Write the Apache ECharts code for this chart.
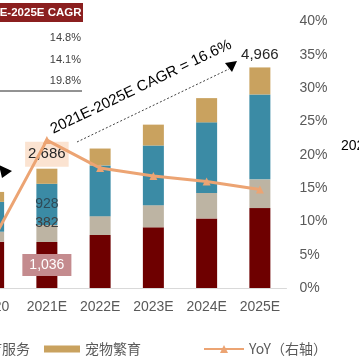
<!DOCTYPE html>
<html><head><meta charset="utf-8">
<script src="https://cdn.jsdelivr.net/npm/echarts@6/dist/echarts.min.js"></script>
<style>html,body{margin:0;padding:0;background:#fff;overflow:hidden}
#wrap{position:relative;width:359px;height:359px;overflow:hidden}
#c{position:absolute;left:-33px;top:0;width:392px;height:359px}</style>
</head><body><div id="wrap"><div id="c"></div></div>
<script>
const categories = ['2020', '2021E', '2022E', '2023E', '2024E', '2025E'];
const seriesNames = ['宠物食品', '宠物用品', '宠物医疗服务', '宠物繁育', 'YoY（右轴）'];
const foodVals = [1043, 1036, 1193, 1366, 1567, 1799];
const suppliesVals = [224, 382, 425, 499, 573, 647];
const medicalVals = [672, 928, 1142, 1343, 1589, 1911];
const breedingVals = [224, 340, 380, 470, 546, 609];
const yoyVals = [0.074, 0.222, 0.180, 0.168, 0.160, 0.148];
const cagrRows = ['14.8%', '14.1%', '19.8%'];
const cagrTitle = '2021E-2025E CAGR';
const cagrNote = '2021E-2025E CAGR = 16.6%';

const OX = 33; // chart canvas is shifted 33px left of the visible frame
const FONT = '"Liberation Sans", Arial, "Noto Sans CJK SC", sans-serif';
const COLORS = ['#6e0000', '#bdb4a3', '#3b8ba5', '#c9a25f', '#eca473'];
const totals = categories.map((c, i) => foodVals[i] + suppliesVals[i] + medicalVals[i] + breedingVals[i]);
const fmt = v => v.toLocaleString('en-US');

function withLabels(vals, idx, label) {
  return vals.map((v, i) => i === idx ? { value: v, label: label(v) } : v);
}

const chart = echarts.init(document.getElementById('c'), null, { renderer: 'canvas' });
const legendBase = {
  top: 336, icon: 'rect', itemWidth: 36, itemHeight: 7,
  textStyle: { fontSize: 14, color: '#595959', fontFamily: '"Noto Sans CJK SC", sans-serif', lineHeight: 16 }
};
chart.setOption({
  animation: false,
  textStyle: { fontFamily: FONT },
  grid: { left: 0, right: 72.5, top: 21.5, bottom: 71 },
  legend: [
    Object.assign({}, legendBase, { data: [seriesNames[2]], left: OX - 100 }),
    Object.assign({}, legendBase, { data: [seriesNames[3]], left: OX + 39 }),
    Object.assign({}, legendBase, { data: [seriesNames[4]], left: OX + 198, icon: null, itemWidth: 40, itemHeight: 10 })
  ],
  xAxis: {
    type: 'category', data: categories,
    axisLine: { lineStyle: { color: '#d9d9d9', width: 1 } },
    axisTick: { show: false },
    axisLabel: { fontSize: 14, color: '#595959', margin: 12, interval: 0, fontFamily: FONT }
  },
  yAxis: [
    { type: 'value', min: 0, max: 6000, show: false },
    {
      type: 'value', min: 0, max: 0.4, interval: 0.05, position: 'right',
      splitLine: { show: false }, axisLine: { show: false }, axisTick: { show: false },
      axisLabel: { fontSize: 14, color: '#595959', margin: 13, fontFamily: FONT,
        formatter: v => Math.round(v * 100) + '%' }
    }
  ],
  series: [
    { name: seriesNames[0], type: 'bar', stack: 't', barWidth: 21, itemStyle: { color: COLORS[0] },
      data: withLabels(foodVals, 1, v => ({ show: true, position: 'inside', formatter: fmt(v), color: '#fff',
        fontSize: 14, backgroundColor: '#c48b8e', padding: [4, 7] })) },
    { name: seriesNames[1], type: 'bar', stack: 't', itemStyle: { color: COLORS[1] },
      data: withLabels(suppliesVals, 1, v => ({ show: true, position: 'inside', offset: [0, -10], formatter: fmt(v),
        color: '#404040', fontSize: 14 })) },
    { name: seriesNames[2], type: 'bar', stack: 't', itemStyle: { color: COLORS[2] },
      data: withLabels(medicalVals, 1, v => ({ show: true, position: 'inside', formatter: fmt(v),
        color: '#2e4a57', fontSize: 14 })) },
    { name: seriesNames[3], type: 'bar', stack: 't', itemStyle: { color: COLORS[3] },
      data: breedingVals.map((v, i) => {
        if (i === 1) return { value: v, label: { show: true, position: 'top', distance: 2, formatter: fmt(totals[i]),
          color: '#262626', fontSize: 15, backgroundColor: '#fbe3d1', padding: [5, 3] } };
        if (i === 5) return { value: v, label: { show: true, position: 'top', distance: 5, formatter: fmt(totals[i]),
          color: '#262626', fontSize: 15 } };
        return v;
      }) },
    { name: seriesNames[4], type: 'line', yAxisIndex: 1, data: yoyVals, z: 5,
      lineStyle: { color: COLORS[4], width: 3 }, itemStyle: { color: COLORS[4] },
      symbol: 'triangle', symbolSize: 8, showSymbol: true }
  ],
  graphic: [
    { type: 'rect', shape: { x: OX - 10, y: 3, width: 93, height: 19 }, style: { fill: '#8b1f1f' } },
    { type: 'text', x: OX + 81.5, y: 12.5, style: { text: cagrTitle, fill: '#fff', font: 'bold 11.5px ' + FONT, align: 'right', verticalAlign: 'middle' } },
    { type: 'text', x: OX + 81, y: 38, style: { text: cagrRows[0], fill: '#404040', font: '11px ' + FONT, align: 'right', verticalAlign: 'middle' } },
    { type: 'text', x: OX + 81, y: 59.5, style: { text: cagrRows[1], fill: '#404040', font: '11px ' + FONT, align: 'right', verticalAlign: 'middle' } },
    { type: 'text', x: OX + 81, y: 81, style: { text: cagrRows[2], fill: '#404040', font: '11px ' + FONT, align: 'right', verticalAlign: 'middle' } },
    { type: 'line', shape: { x1: OX - 5, y1: 91, x2: OX + 82, y2: 91 }, style: { stroke: '#262626', lineWidth: 1 } },
    { type: 'line', shape: { x1: OX + 77, y1: 142, x2: OX + 229, y2: 69 }, style: { stroke: '#404040', lineWidth: 1, lineDash: [2, 2] } },
    { type: 'polygon', shape: { points: [[OX + 225, 63], [OX + 237, 61], [OX + 232, 72]] }, style: { fill: '#000' } },
    { type: 'polygon', shape: { points: [[OX - 1, 165], [OX + 12, 171], [OX + 2, 178]] }, style: { fill: '#000' } },
    { type: 'text', x: OX + 141, y: 87, rotation: 25.7 * Math.PI / 180,
      style: { text: cagrNote, fill: '#000', font: '15px ' + FONT, align: 'center', verticalAlign: 'middle' } },
    { type: 'text', x: OX + 341, y: 146, style: { text: '2021', fill: '#000', font: '14px ' + FONT, align: 'left', verticalAlign: 'middle' } }
  ]
});
</script>
</body></html>
